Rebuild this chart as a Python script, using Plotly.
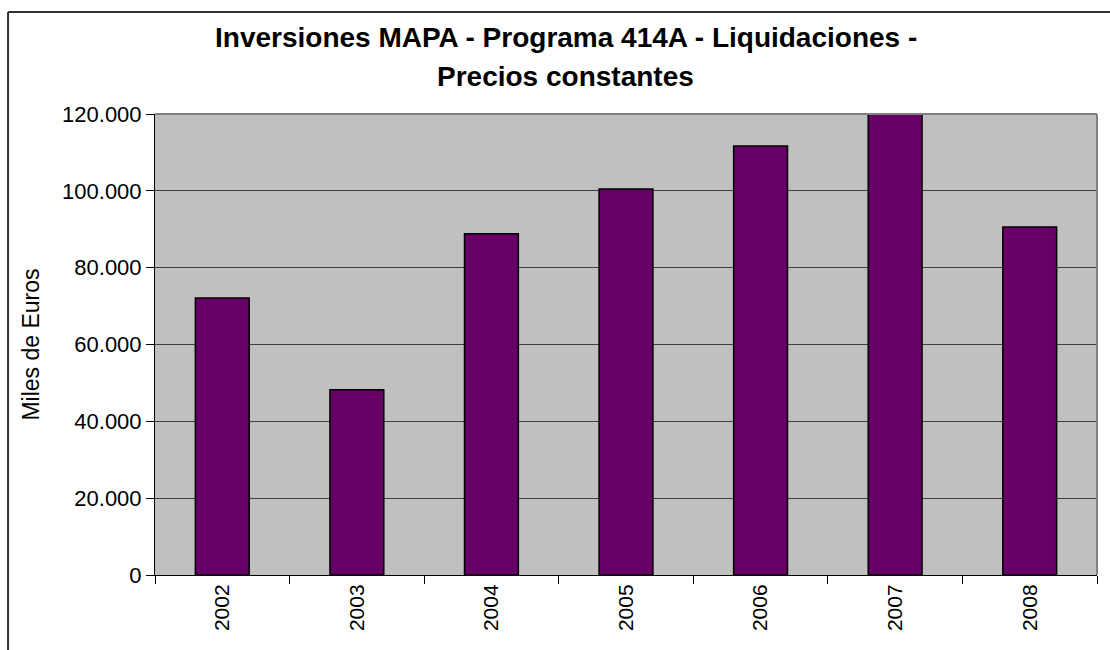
import plotly.graph_objects as go

# === DATA ===
years = ['2002', '2003', '2004', '2005', '2006', '2007', '2008']
liquidaciones = [72100, 48200, 88800, 100500, 111700, 120800, 90600]  # miles de euros, precios constantes
y_ticks = [0, 20000, 40000, 60000, 80000, 100000, 120000]

title_lines = ['Inversiones MAPA - Programa 414A - Liquidaciones -', 'Precios constantes']

fig = go.Figure()
fig.add_trace(go.Bar(
    x=years,
    y=liquidaciones,
    marker=dict(color='#660066', line=dict(color='#000000', width=1.5)),
    showlegend=False,
))

fig.update_layout(
    width=1110,
    height=650,
    margin=dict(l=155, r=13, t=114, b=75),
    paper_bgcolor='white',
    plot_bgcolor='#C0C0C0',
    separators=',.',
    bargap=0.6,
    font=dict(family='Liberation Sans, Arial, sans-serif', color='black'),
)

# two-line bold title, placed as annotations to control line spacing
for text, ypos in zip(title_lines, [1.167, 1.0824]):
    fig.add_annotation(
        text=text, x=0.4363, y=ypos, xref='paper', yref='paper',
        xanchor='center', yanchor='middle', showarrow=False,
        font=dict(size=28, family='Liberation Sans, Arial, sans-serif', color='black', weight='bold'),
    )

fig.update_yaxes(
    range=[0, 120000],
    tickvals=y_ticks,
    tickformat=',.0f',
    tickfont=dict(size=22),
    showgrid=True, gridcolor='#404040', gridwidth=1,
    showline=True, linecolor='black', linewidth=1,
    ticks='outside', ticklen=8, tickcolor='black',
    zeroline=False,
    title=dict(text='Miles de Euros', font=dict(size=23), standoff=16),
)
fig.update_xaxes(
    type='category',
    tickangle=-90,
    tickfont=dict(size=21),
    tickson='boundaries',
    ticks='outside', ticklen=8, tickcolor='black',
    showline=True, linecolor='black', linewidth=1,
    showgrid=False,
)

# gray frame on top/right of plot area
fig.add_shape(type='line', xref='paper', yref='paper', x0=0, x1=1, y0=1, y1=1,
              line=dict(color='#808080', width=2), layer='above')
fig.add_shape(type='line', xref='paper', yref='paper', x0=1, x1=1, y0=0, y1=1,
              line=dict(color='#808080', width=2), layer='above')

# outer chart border (top and left visible)
fig.add_shape(type='line', xref='paper', yref='paper', x0=-0.156, x1=1.02, y0=1.2213, y1=1.2213,
              line=dict(color='#333333', width=2))
fig.add_shape(type='line', xref='paper', yref='paper', x0=-0.156, x1=-0.156, y0=1.2213, y1=-0.2,
              line=dict(color='#333333', width=2))

fig.write_html('out.html', config={'displayModeBar': False},
               post_script="document.body.style.margin='0';document.body.style.overflow='hidden';")
